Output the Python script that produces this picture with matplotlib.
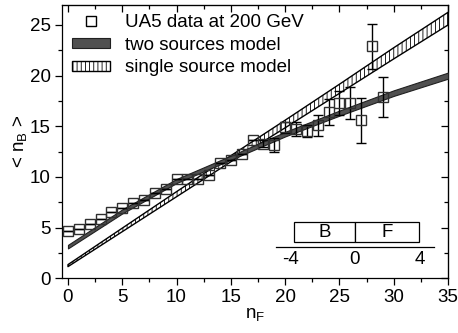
import numpy as np
import matplotlib
matplotlib.use("Agg")
import matplotlib.pyplot as plt
from matplotlib.patches import Rectangle
from matplotlib.lines import Line2D
from matplotlib.ticker import MultipleLocator

plt.rcParams["font.family"] = ["Liberation Sans", "DejaVu Sans"]
plt.rcParams["hatch.linewidth"] = 0.6

#=== Data ===
n_f = np.arange(0, 30)
nb_mean = [4.7, 4.85, 5.35, 5.9, 6.5, 6.9, 7.4, 7.7, 8.4, 8.8,
           9.8, 9.8, 9.8, 10.2, 11.4, 11.7, 12.3, 13.6, 13.3, 13.15,
           14.9, 14.75, 14.5, 15.1, 16.4, 17.3, 17.3, 15.6, 22.9, 17.9]
nb_err = [0, 0, 0, 0, 0, 0, 0, 0, 0, 0,
          0, 0, 0, 0, 0, 0, 0, 0, 0.3, 0.65,
          0.55, 0.7, 0.6, 1.05, 1.25, 1.15, 1.55, 2.2, 2.2, 2.0]

model_nf = [0, 5, 10, 15, 20, 25, 30, 35]
two_lo = [2.95, 6.4, 9.4, 11.7, 14.0, 16.05, 18.0, 19.7]
two_hi = [3.3, 6.8, 9.8, 12.1, 14.45, 16.55, 18.55, 20.3]
single_lo = [1.15, 4.6, 8.05, 11.5, 14.85, 18.25, 21.65, 25.0]
single_hi = [1.35, 4.95, 8.55, 12.1, 15.6, 19.15, 22.75, 26.25]

window_edges = [-3.8, 0, 4]
window_names = ["B", "F"]
window_ticks = [-4, 0, 4]

#=== Plot ===
W, H = 458, 333
fig = plt.figure(figsize=(W/100, H/100), dpi=100, facecolor="white")
ax = fig.add_axes([62/W, 1-278.3/H, (448-62)/W, (278.3-4.7)/H])

single = ax.fill_between(model_nf, single_lo, single_hi, facecolor="white", edgecolor="black",
                         hatch="||||", linewidth=1.0, zorder=2)
two = ax.fill_between(model_nf, two_lo, two_hi, facecolor="#505050", edgecolor="#202020",
                      linewidth=0.8, zorder=3)
ax.errorbar(n_f, nb_mean, yerr=nb_err, fmt="s", ms=7.5, mfc="none", mec="#303030",
            mew=1.0, ecolor="black", elinewidth=1.0, capsize=3.5, capthick=1.0, zorder=4)

ax.set_xlim(-0.55, 35)
ax.set_ylim(0, 27)
ax.xaxis.set_major_locator(MultipleLocator(5))
ax.xaxis.set_minor_locator(MultipleLocator(2.5))
ax.yaxis.set_major_locator(MultipleLocator(5))
ax.yaxis.set_minor_locator(MultipleLocator(2.5))
ax.tick_params(which="both", direction="out", labelsize=13.5, width=0.9)
ax.tick_params(which="major", length=5, pad=3)
ax.tick_params(which="minor", length=3)
for side in ["top", "right"]:
    sec = ax.secondary_xaxis("top") if side == "top" else ax.secondary_yaxis("right")
    loc = sec.xaxis if side == "top" else sec.yaxis
    loc.set_major_locator(MultipleLocator(5))
    loc.set_minor_locator(MultipleLocator(2.5))
    sec.tick_params(which="both", direction="in", labelleft=False, labelright=False,
                    labeltop=False, labelbottom=False, width=0.9)
    sec.tick_params(which="major", length=5)
    sec.tick_params(which="minor", length=3)
for s in ax.spines.values():
    s.set_linewidth(0.9)

ax.set_xlabel(r"n$_\mathregular{F}$", fontsize=13.5, labelpad=0)
ax.set_ylabel(r"< n$_\mathregular{B}$ >", fontsize=13.5, labelpad=0)

data_handle = Line2D([], [], ls="none", marker="s", ms=7.5, mfc="none", mec="black", mew=1.0)
ax.legend([data_handle, two, single],
          ["UA5 data at 200 GeV", "two sources model", "single source model"],
          loc="upper left", bbox_to_anchor=(72/W, 1-14/H), bbox_transform=fig.transFigure,
          frameon=False, fontsize=13.5, borderpad=0, borderaxespad=0, handlelength=2.0,
          handleheight=0.45, handletextpad=0.85, labelspacing=0.3)

#=== Pseudorapidity window sketch ===
ax_in = fig.add_axes([276/W, 1-247.3/H, (434-276)/W, 30/H])
ax_in.set_xlim(-4.9, 4.9)
ax_in.set_ylim(0, 1)
ax_in.patch.set_alpha(0)
for s in ["top", "left", "right"]:
    ax_in.spines[s].set_visible(False)
ax_in.spines["bottom"].set_linewidth(0.9)
ax_in.set_yticks([])
ax_in.set_xticks(window_ticks)
ax_in.set_xticklabels([str(t) for t in window_ticks])
ax_in.tick_params(axis="x", length=0, labelsize=13.5, pad=3)
for i, name in enumerate(window_names):
    x0, x1 = window_edges[i], window_edges[i+1]
    ax_in.add_patch(Rectangle((x0, 5/30), x1-x0, 20/30, facecolor="white",
                              edgecolor="black", linewidth=0.9))
    ax_in.text((x0+x1)/2, 15/30, name, ha="center", va="center", fontsize=13.5)

fig.savefig("out.png", dpi=100)
